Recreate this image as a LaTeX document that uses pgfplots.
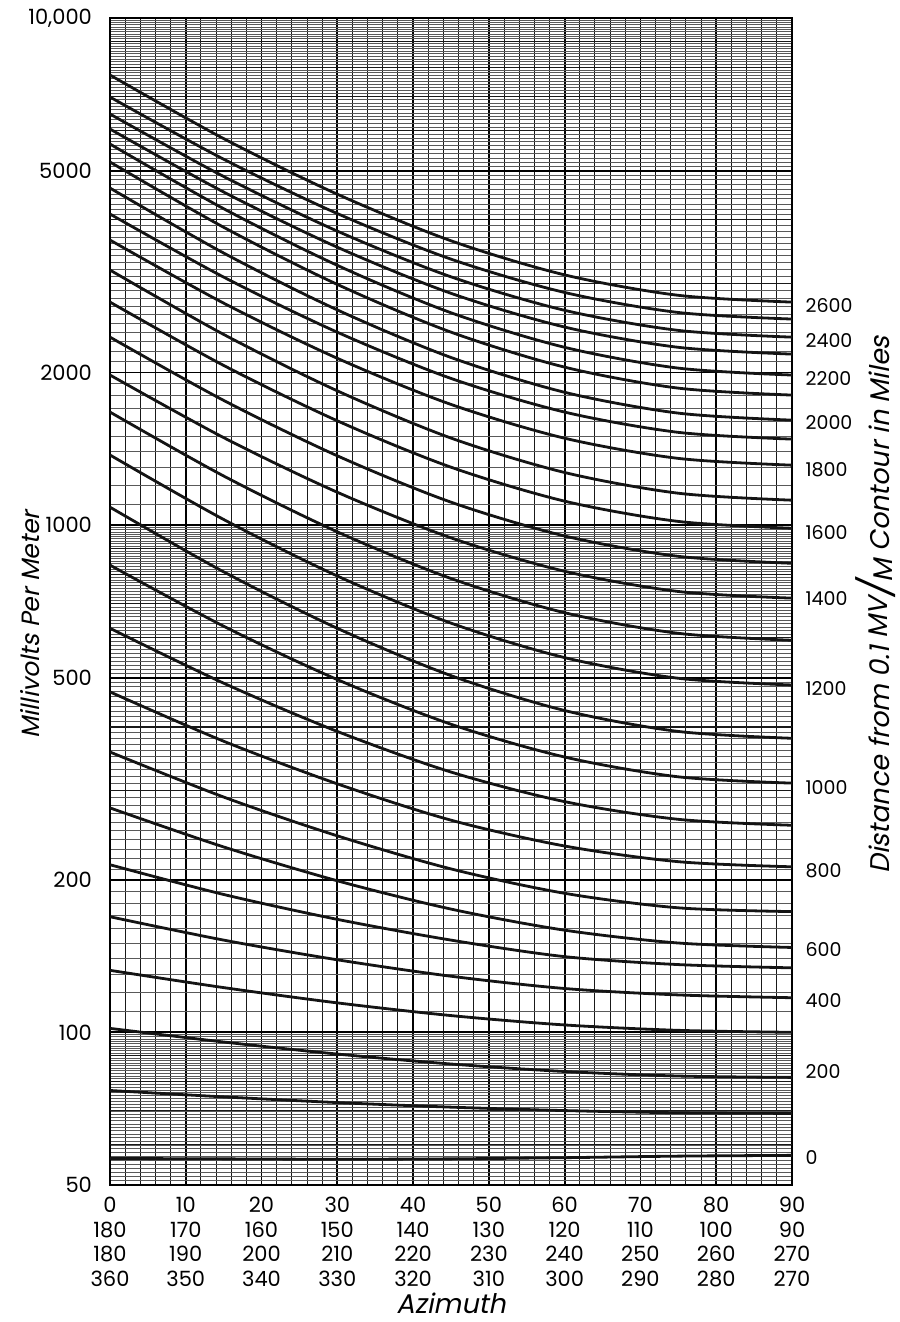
\documentclass[border=0pt]{standalone}
\usepackage{fontspec}
\setmainfont{Poppins}
\newfontfamily\slfont{Poppins}[FakeSlant=0.2]
\usepackage{pgfplots}
\pgfplotsset{compat=1.18}
\pgfplotsset{crv/.style={black!92, solid, line width=1.4pt, smooth, mark=none}}
\begin{document}
\begin{tikzpicture}
\begin{axis}[
  name=ax,
  scale only axis, width=341pt, height=583.5pt,
  xmin=0, xmax=90, ymode=log, ymin=50, ymax=10000,
  xtick={0,10,...,90},
  minor xtick={2,4,...,88},
  xticklabels={{0\\180\\180\\360},{10\\170\\190\\350},{20\\160\\200\\340},{30\\150\\210\\330},{40\\140\\220\\320},{50\\130\\230\\310},{60\\120\\240\\300},{70\\110\\250\\290},{80\\100\\260\\280},{90\\90\\270\\270}},
  xticklabel style={align=center, font=\fontsize{10.5}{12.3}\selectfont, yshift=-2.5pt},
  ytick={50,100,200,500,1000,2000,5000,10000},
  yticklabels={50,100,200,500,1000,2000,5000,{10,000}},
  yticklabel style={font=\fontsize{10.5}{12}\selectfont, xshift=-5.5pt},
  /pgf/number format/assume math mode=true,
  minor ytick={51,52,...,99,110,120,...,990,1100,1200,...,9900},
  extra y ticks={60,70,80,90,300,400,600,700,800,900,3000,4000,6000,7000,8000,9000},
  extra y tick labels={},
  extra y tick style={major grid style={black!90, line width=0.6pt}},
  grid=both,
  major grid style={black, line width=0.85pt},
  minor x grid style={black!90, line width=0.5pt},
  minor y grid style={black!65, line width=0.32pt},
  major tick length=0pt, minor tick length=0pt,
  axis line style={black, line width=1pt},
  xlabel={\slfont Azimuth},
  xlabel style={at={(axis description cs:0.5,-0.101)}, anchor=center, font=\fontsize{13.5}{15}\selectfont},
  ylabel={\slfont Millivolts Per Meter},
  ylabel style={at={(axis description cs:-0.1173,0.48)}, anchor=center, font=\fontsize{12.5}{15}\selectfont},
]
% 2600
\addplot[crv] coordinates {(0,7720)(15,5783)(30,4493)(45,3637)(60,3115)(75,2839)(90,2753)};
% 2500
\addplot[crv] coordinates {(0,6985)(15,5267)(30,4115)(45,3346)(60,2876)(75,2626)(90,2549)};
% 2400
\addplot[crv] coordinates {(0,6466)(15,4869)(30,3800)(45,3088)(60,2652)(75,2421)(90,2348)};
% 2300
\addplot[crv] coordinates {(0,6040)(15,4538)(30,3532)(45,2865)(60,2458)(75,2242)(90,2174)};
% 2200
\addplot[crv] coordinates {(0,5642)(15,4207)(30,3253)(45,2623)(60,2242)(75,2040)(90,1977)};
% 2100
\addplot[crv] coordinates {(0,5200)(15,3867)(30,2983)(45,2402)(60,2049)(75,1863)(90,1805)};
% 2000
\addplot[crv] coordinates {(0,4620)(15,3440)(30,2657)(45,2141)(60,1828)(75,1663)(90,1611)};
% 1900
\addplot[crv] coordinates {(0,4106)(15,3084)(30,2401)(45,1947)(60,1671)(75,1524)(90,1478)};
% 1800
\addplot[crv] coordinates {(0,3649)(15,2740)(30,2133)(45,1730)(60,1484)(75,1354)(90,1313)};
% 1700
\addplot[crv] coordinates {(0,3184)(15,2377)(30,1840)(45,1485)(60,1270)(75,1156)(90,1120)};
% 1600
\addplot[crv] coordinates {(0,2753)(15,2065)(30,1606)(45,1301)(60,1115)(75,1017)(90,986)};
% 1500
\addplot[crv] coordinates {(0,2348)(15,1762)(30,1370)(45,1110)(60,952)(75,868)(90,841)};
% 1400
\addplot[crv] coordinates {(0,1977)(15,1488)(30,1161)(45,944)(60,811)(75,740)(90,718)};
% 1300
\addplot[crv] coordinates {(0,1671)(15,1250)(30,970)(45,785)(60,672)(75,612)(90,593)};
% 1200
\addplot[crv] coordinates {(0,1375)(15,1026)(30,794)(45,641)(60,548)(75,499)(90,484)};
% 1100
\addplot[crv] coordinates {(0,1085)(15,809)(30,626)(45,505)(60,431)(75,392)(90,380)};
% 1000
\addplot[crv] coordinates {(0,834)(15,632)(30,496)(45,405)(60,349)(75,319)(90,310)};
% 900
\addplot[crv] coordinates {(0,626)(15,488)(30,392)(45,326)(60,285)(75,263)(90,256)};
% 800
\addplot[crv] coordinates {(0,469)(15,375)(30,309)(45,262)(60,233)(75,217)(90,212)};
% 700
\addplot[crv] coordinates {(0,357)(15,291)(30,244)(45,210)(60,188)(75,176)(90,173)};
% 600
\addplot[crv] coordinates {(0,277)(15,232)(30,199)(45,175)(60,159)(75,150)(90,147)};
% 500
\addplot[crv] coordinates {(0,214)(15,187)(30,167)(45,152)(60,141)(75,136)(90,134)};
% 400
\addplot[crv] coordinates {(0,169)(15,152)(30,139)(45,129)(60,122)(75,118.5)(90,117)};
% 300
\addplot[crv] coordinates {(0,132.5)(15,122.5)(30,114.3)(45,107.9)(60,103.4)(75,100.9)(90,100)};
% 200
\addplot[crv] coordinates {(0,101.8)(15,95.7)(30,90.6)(45,86.6)(60,83.7)(75,82)(90,81.5)};
% 100
\addplot[crv] coordinates {(0,76.8)(15,74.6)(30,72.7)(45,71.2)(60,70.1)(75,69.4)(90,69.2)};
% 0
\addplot[crv] coordinates {(0,56.4)(15,56.3)(30,56.2)(45,56.3)(60,56.6)(75,57)(90,57.2)};
\end{axis}
\begin{axis}[
  at={(ax.south west)}, anchor=south west,
  scale only axis, width=341pt, height=583.5pt,
  xmin=0, xmax=90, ymode=log, ymin=50, ymax=10000,
  axis x line=none, axis y line*=right, y axis line style={draw=none},
  ytick={56.7,83.8,115.6,145.8,208.7,304,477,718,969,1284,1597,1950,2317,2716},
  yticklabels={0,200,400,600,800,1000,1200,1400,1600,1800,2000,2200,2400,2600},
  minor ytick={},
  major tick length=0pt,
  /pgf/number format/assume math mode=true,
  yticklabel style={font=\fontsize{9.5}{11}\selectfont, xshift=3.3pt},
  ylabel={\slfont Distance from 0.1 \raisebox{1pt}{MV}\kern-0.5pt{\fontsize{18}{18}\selectfont/}\kern-0.5pt\raisebox{-1.5pt}{M} Contour in Miles},
  ylabel style={at={(axis description cs:1.122,0.497)}, anchor=center, font=\fontsize{13.5}{15}\selectfont},
]
\addplot[draw=none] coordinates {(0,100)(90,100)};
\end{axis}
\pgfresetboundingbox
\path ([xshift=-55pt,yshift=-68.5pt]ax.south west) rectangle ([xshift=54pt,yshift=9pt]ax.north east);
\end{tikzpicture}
\end{document}
